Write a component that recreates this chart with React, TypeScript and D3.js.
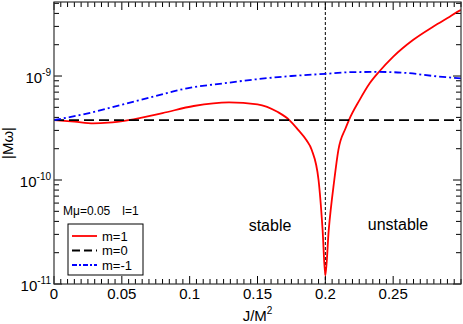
import React from "react";
import * as d3 from "d3";

const redJ = [0, 0.015, 0.029, 0.04, 0.055, 0.08, 0.103, 0.129, 0.15, 0.165, 0.1735, 0.18, 0.186, 0.19, 0.195, 0.198, 0.2, 0.2025, 0.2066, 0.2096, 0.215, 0.2174, 0.2253, 0.2327, 0.2396, 0.2499, 0.2646, 0.2794, 0.2917, 0.299, 0.3];
const redW = [3.77e-10, 3.64e-10, 3.51e-10, 3.56e-10, 3.77e-10, 4.4e-10, 5.15e-10, 5.58e-10, 5.35e-10, 4.5e-10, 3.77e-10, 3.03e-10, 2.42e-10, 1.94e-10, 1.0e-10, 3.3e-11, 1.2e-11, 3.3e-11, 1.0e-10, 1.94e-10, 3.16e-10, 3.77e-10, 5.9e-10, 8.51e-10, 1.1e-9, 1.53e-9, 2.22e-9, 2.98e-9, 3.72e-9, 4.25e-9, 4.3e-9];

const blueJ = [0, 0.025, 0.049, 0.075, 0.098, 0.125, 0.149, 0.175, 0.2, 0.22, 0.24, 0.26, 0.28, 0.3];
const blueW = [3.77e-10, 4.38e-10, 5.26e-10, 6.42e-10, 7.62e-10, 8.5e-10, 9.3e-10, 1.0e-9, 1.05e-9, 1.09e-9, 1.095e-9, 1.07e-9, 1.0e-9, 0.95e-9];

const blackJ = [0, 0.3];
const blackW = [3.77e-10, 3.77e-10];

const xTicks = [0, 0.05, 0.1, 0.15, 0.2, 0.25];
const xTickLabels = ["0", "0.05", "0.1", "0.15", "0.2", "0.25"];
const yTicks = [1e-11, 1e-10, 1e-9];
const yTickExp = ["-11", "-10", "-9"];

const legendNames = ["m=1", "m=0", "m=-1"];

const W = 463;
const H = 324;
const left = 54, right = 461, top = 2, bottom = 284;

export default function App() {
  const x = d3.scaleLinear().domain([0, 0.3]).range([left, right]);
  const y = d3.scaleLog().domain([1e-11, 5.15e-9]).range([bottom, top]);

  const line = d3
    .line<[number, number]>()
    .x((d) => x(d[0]))
    .y((d) => y(d[1]))
    .curve(d3.curveMonotoneX);

  const red = redJ.map((j, i) => [j, redW[i]] as [number, number]);
  const blue = blueJ.map((j, i) => [j, blueW[i]] as [number, number]);
  const black = blackJ.map((j, i) => [j, blackW[i]] as [number, number]);

  const xMinor = d3.range(0, 0.3001, 0.005).filter((v) => !xTicks.some((t) => Math.abs(t - v) < 1e-9));
  const yMinor: number[] = [];
  [1e-11, 1e-10, 1e-9].forEach((d) => {
    for (let k = 2; k <= 9; k++) if (d * k <= 5.15e-9) yMinor.push(d * k);
  });

  const font = "Liberation Sans, Arial, sans-serif";
  const styles = [
    { color: "#ff0000", dash: "none", width: 1.8 },
    { color: "#000000", dash: "10,5", width: 1.8 },
    { color: "#0000ff", dash: "7,3,2,3", width: 1.8 },
  ];
  const series = [red, black, blue];

  return (
    <svg width={W} height={H} style={{ position: "absolute", left: 0, top: 0 }} fontFamily={font}>
      <defs>
        <clipPath id="plot">
          <rect x={left} y={top} width={right - left} height={bottom - top} />
        </clipPath>
      </defs>
      <g clipPath="url(#plot)">
        <line x1={x(0.2)} x2={x(0.2)} y1={top} y2={bottom} stroke="#000" strokeWidth={1} strokeDasharray="3,2" />
        {series.map((s, i) => (
          <path
            key={i}
            d={line(s) || ""}
            fill="none"
            stroke={styles[i].color}
            strokeWidth={styles[i].width}
            strokeDasharray={styles[i].dash}
          />
        ))}
      </g>

      {/* ticks, mirrored on all sides */}
      <g stroke="#000" strokeWidth={1}>
        {xTicks.map((t) => (
          <g key={"xt" + t}>
            <line x1={x(t)} x2={x(t)} y1={bottom} y2={bottom - 8} />
            <line x1={x(t)} x2={x(t)} y1={top} y2={top + 8} />
          </g>
        ))}
        {xMinor.map((t) => (
          <g key={"xm" + t}>
            <line x1={x(t)} x2={x(t)} y1={bottom} y2={bottom - 5} />
            <line x1={x(t)} x2={x(t)} y1={top} y2={top + 5} />
          </g>
        ))}
        {yTicks.map((t) => (
          <g key={"yt" + t}>
            <line x1={left} x2={left + 8} y1={y(t)} y2={y(t)} />
            <line x1={right} x2={right - 8} y1={y(t)} y2={y(t)} />
          </g>
        ))}
        {yMinor.map((t) => (
          <g key={"ym" + t}>
            <line x1={left} x2={left + 5} y1={y(t)} y2={y(t)} />
            <line x1={right} x2={right - 5} y1={y(t)} y2={y(t)} />
          </g>
        ))}
      </g>
      <rect x={left} y={top} width={right - left} height={bottom - top} fill="none" stroke="#333" strokeWidth={1.2} />

      {/* tick labels */}
      {xTicks.map((t, i) => (
        <text key={"xl" + t} x={x(t)} y={bottom + 15} fontSize={15} textAnchor="middle">
          {xTickLabels[i]}
        </text>
      ))}
      {yTicks.map((t, i) => (
        <text key={"yl" + t} x={left - 3} y={y(t) + 7} fontSize={15} textAnchor="end">
          10
          <tspan fontSize={10} dy={-7}>
            {yTickExp[i]}
          </tspan>
        </text>
      ))}

      {/* axis titles */}
      <text x={(left + right) / 2} y={321} fontSize={15} textAnchor="middle">
        J/M
        <tspan fontSize={10} dy={-7}>2</tspan>
      </text>
      <text transform={`translate(13,${(top + bottom) / 2}) rotate(-90)`} fontSize={15} textAnchor="middle">
        |Mω|
      </text>

      {/* annotations */}
      <text x={270} y={231} fontSize={16} textAnchor="middle">stable</text>
      <text x={398} y={230} fontSize={16} textAnchor="middle">unstable</text>

      {/* legend */}
      <text x={63} y={215} fontSize={12}>
        Mμ=0.05
        <tspan dx={12}>l=1</tspan>
      </text>
      <rect x={68} y={224} width={75} height={51} fill="#fff" stroke="#000" strokeWidth={1} />
      {legendNames.map((n, i) => (
        <g key={n}>
          <line
            x1={72}
            x2={97}
            y1={236 + i * 14.5}
            y2={236 + i * 14.5}
            stroke={styles[i].color}
            strokeWidth={1.8}
            strokeDasharray={i === 1 ? "8,4" : i === 2 ? "5,2,2,2" : "none"}
          />
          <text x={102} y={240.5 + i * 14.5} fontSize={13}>
            {n}
          </text>
        </g>
      ))}
    </svg>
  );
}
